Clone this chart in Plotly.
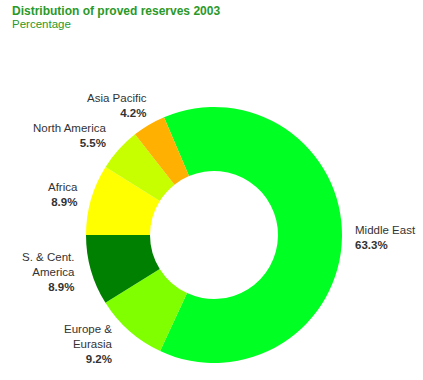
import plotly.graph_objects as go

regions = ["Middle East", "Europe & Eurasia", "S. & Cent. America", "Africa", "North America", "Asia Pacific"]
label_lines = ["Middle East", "Europe &<br>Eurasia", "S. & Cent.<br>America", "Africa", "North America", "Asia Pacific"]
shares = [63.3, 9.2, 8.9, 8.9, 5.5, 4.2]
colors = ["#00FF22", "#7FFF00", "#008000", "#FFFF00", "#C8FF00", "#FFB000"]

W, H = 423, 380
cx, cy, r = 214, 235, 128

fig = go.Figure(go.Pie(
    labels=regions, values=shares, sort=False, direction="clockwise",
    rotation=-23, hole=0.5, textinfo="none", hoverinfo="skip",
    marker=dict(colors=colors, line=dict(width=0)),
    domain=dict(x=[(cx - r) / W, (cx + r) / W], y=[(H - cy - r) / H, (H - cy + r) / H]),
    showlegend=False,
))

# label anchor positions in pixels: (x, y_center, xanchor)
label_pos = [(353, 237, "left"), (115, 344, "right"), (77, 271.5, "right"),
             (80, 194.5, "right"), (108, 135.5, "right"), (149, 105, "right")]

font = "Liberation Sans, Arial, sans-serif"
annotations = []
for txt, val, (px, py, anc) in zip(label_lines, shares, label_pos):
    annotations.append(dict(
        text=f"{txt}<br><b>{val:.1f}%</b>", x=px / W, y=1 - py / H,
        xref="paper", yref="paper", xanchor=anc, yanchor="middle", align=anc,
        showarrow=False, font=dict(family=font, size=11.5, color="#333333"),
    ))

annotations.append(dict(text="<b>Distribution of proved reserves 2003</b>", x=10 / W, y=1 - 11 / H,
                        xref="paper", yref="paper", xanchor="left", yanchor="middle", showarrow=False,
                        font=dict(family=font, size=12, color="#2A992A")))
annotations.append(dict(text="Percentage", x=10 / W, y=1 - 24 / H,
                        xref="paper", yref="paper", xanchor="left", yanchor="middle", showarrow=False,
                        font=dict(family=font, size=11.5, color="#2A992A")))

fig.update_layout(width=W, height=H, autosize=False, margin=dict(l=0, r=0, t=0, b=0),
                  paper_bgcolor="white", plot_bgcolor="white", annotations=annotations)

fig.write_html("out.html", config={"displayModeBar": False},
               post_script="document.body.style.margin='0';document.body.style.overflow='hidden';")
